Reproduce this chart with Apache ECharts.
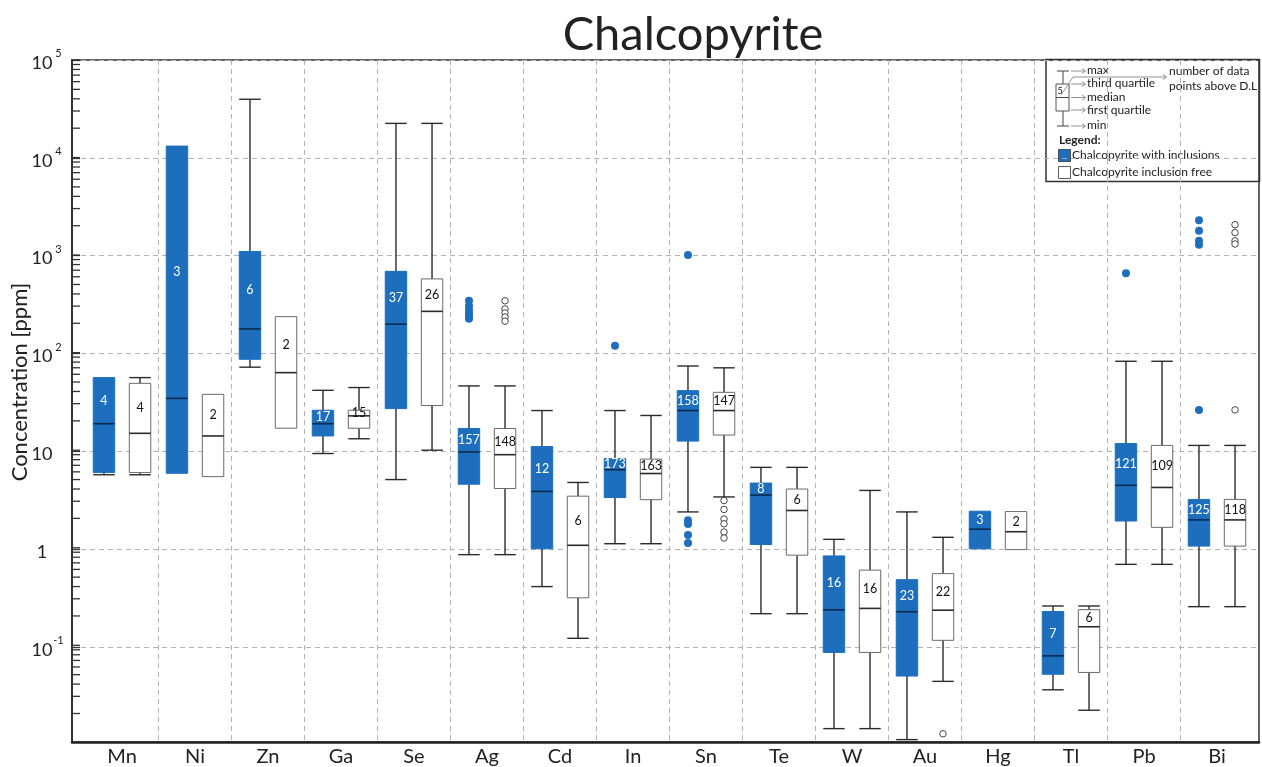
<!DOCTYPE html>
<html><head><meta charset="utf-8">
<script src="https://cdn.jsdelivr.net/npm/echarts@6/dist/echarts.min.js"></script>
<style>html,body{margin:0;padding:0;background:#fff}#c{width:1262px;height:767px}</style>
</head><body><div id="c"></div>
<script>
const categories = ['Mn','Ni','Zn','Ga','Se','Ag','Cd','In','Sn','Te','W','Au','Hg','Tl','Pb','Bi'];

// [min, Q1, median, Q3, max] in ppm
const withInclusions = [
  [5.6, 5.9, 18.7, 55.5, 55.5],
  [5.8, 5.8, 34, 13100, 13100],
  [71, 85.5, 175, 1090, 39600],
  [9.25, 14, 18.7, 25.7, 41.1],
  [5.0, 26.7, 196, 682, 22400],
  [0.85, 4.48, 9.6, 16.7, 45.6],
  [0.40, 0.975, 3.78, 10.9, 25.5],
  [1.1, 3.27, 6.3, 8.2, 25.5],
  [2.33, 12.4, 25.5, 40.8, 73],
  [0.211, 1.08, 3.47, 4.6, 6.67],
  [0.014, 0.0845, 0.231, 0.825, 1.22],
  [0.0108, 0.0484, 0.221, 0.471, 2.33],
  [0.975, 0.975, 1.55, 2.37, 2.37],
  [0.035, 0.0505, 0.078, 0.222, 0.253],
  [0.676, 1.88, 4.37, 11.7, 81.6],
  [0.249, 1.04, 1.93, 3.13, 11.2]
];
const inclusionFree = [
  [5.6, 5.9, 14.9, 48.5, 55.5],
  [5.36, 5.36, 14, 37.4, 37.4],
  [16.8, 16.8, 62.4, 234, 234],
  [13.1, 16.8, 22.5, 25.7, 43.9],
  [10, 28.7, 265, 570, 22400],
  [0.85, 4.05, 9.0, 16.7, 45.6],
  [0.118, 0.307, 1.06, 3.38, 4.67],
  [1.1, 3.11, 5.77, 8.1, 22.7],
  [3.32, 14.3, 25.5, 39.2, 69.9],
  [0.211, 0.84, 2.41, 4.0, 6.67],
  [0.014, 0.0845, 0.239, 0.59, 3.87],
  [0.0427, 0.1125, 0.229, 0.543, 1.28],
  [0.957, 0.957, 1.46, 2.35, 2.35],
  [0.0216, 0.0527, 0.155, 0.232, 0.253],
  [0.676, 1.62, 4.15, 11.2, 81.6],
  [0.249, 1.04, 1.93, 3.13, 11.2]
];
const countsWith = [4,3,6,17,37,157,12,173,158,8,16,23,3,7,121,125];
const countsFree = [4,2,2,15,26,148,6,163,147,6,16,22,2,6,109,118];

// outliers: [category index, value]
const outliersWith = [
  [5,340],[5,300],[5,270],[5,250],[5,235],[5,222],
  [7,118],
  [8,1000],[8,1.92],[8,1.75],[8,1.35],[8,1.12],
  [14,650],
  [15,2270],[15,1780],[15,1400],[15,1280],[15,25.9]
];
const outliersFree = [
  [5,340],[5,280],[5,255],[5,232],[5,210],
  [8,3.05],[8,2.47],[8,1.97],[8,1.76],[8,1.45],[8,1.26],
  [11,0.0124],
  [15,2050],[15,1700],[15,1400],[15,1300],[15,25.9]
];

const yMin = 0.0107, yMax = 100000;
const BLUE = '#1d6fbe';
const FONT = 'Lato';
const TXT = '#222';

// y-axis tick marks: decades and 2..9 within each decade
const tickVals = [];
for (let e = -2; e <= 4; e++) {
  for (let k = 1; k <= 9; k++) {
    const v = k * Math.pow(10, e);
    if (v >= yMin && v <= yMax) tickVals.push(v);
  }
}
tickVals.push(100000);

const chart = echarts.init(document.getElementById('c'), null, {renderer: 'canvas'});

function boxData(stats, counts) {
  return stats.map((s, i) => [i, s[0], s[1], s[2], s[3], s[4], counts[i]]);
}

function boxRenderer(side, fill, stroke, medColor, textColor) {
  return function (params, api) {
    const i = api.value(0);
    const band = api.size([1, 1])[0];
    const cx = api.coord([i, 1])[0] + side * band * 0.247;
    const hw = band * 0.147;
    const y = k => api.coord([i, api.value(k)])[1];
    const yMn = y(1), yQ1 = y(2), yMd = y(3), yQ3 = y(4), yMx = y(5);
    const wl = {stroke: '#2b2b2b', lineWidth: 1.4};
    const ch = [];
    if (side < 0 && params.dataIndex === 0) {
      const left = params.coordSys.x - 13.5;
      tickVals.forEach(v => {
        const yy = api.coord([0, v])[1];
        ch.push({type: 'line', shape: {x1: left, y1: yy, x2: left + 8, y2: yy}, style: {stroke: '#333', lineWidth: 1.3}});
      });
    }
    if (api.value(5) > api.value(4)) {
      ch.push({type: 'line', shape: {x1: cx, y1: yQ3, x2: cx, y2: yMx}, style: wl});
      ch.push({type: 'line', shape: {x1: cx - hw, y1: yMx, x2: cx + hw, y2: yMx}, style: wl});
    }
    if (api.value(1) < api.value(2)) {
      ch.push({type: 'line', shape: {x1: cx, y1: yQ1, x2: cx, y2: yMn}, style: wl});
      ch.push({type: 'line', shape: {x1: cx - hw, y1: yMn, x2: cx + hw, y2: yMn}, style: wl});
    }
    ch.push({type: 'rect', shape: {x: cx - hw, y: yQ3, width: 2 * hw, height: yQ1 - yQ3},
      style: {fill: fill, stroke: stroke, lineWidth: 1}});
    ch.push({type: 'line', shape: {x1: cx - hw, y1: yMd, x2: cx + hw, y2: yMd},
      style: {stroke: medColor, lineWidth: 1.6}});
    const lv = Math.sqrt(api.value(4) * api.value(3));
    ch.push({type: 'text', x: cx, y: api.coord([i, lv])[1],
      style: {text: String(api.value(6)), fill: textColor, font: '12.5px ' + FONT,
        align: 'center', verticalAlign: 'middle'}});
    return {type: 'group', children: ch};
  };
}

const lineG = (x1, y1, x2, y2, c, w) => ({type: 'line', shape: {x1, y1, x2, y2}, style: {stroke: c || '#333', lineWidth: w || 1}, silent: true});
const arrowG = (x1, x2, y) => [
  lineG(x1, y, x2, y, '#777', 0.8),
  {type: 'polyline', shape: {points: [[x2 - 3, y - 2.5], [x2 + 0.5, y], [x2 - 3, y + 2.5]]}, style: {stroke: '#777', lineWidth: 0.8, fill: null}, silent: true}
];
const textG = (x, y, t, size, bold) => ({type: 'text', x, y, style: {text: t, fill: TXT,
  font: (bold ? 'bold ' : '') + size + 'px ' + FONT, align: 'left', verticalAlign: 'middle'}, silent: true});

const legendEls = [
  {type: 'rect', shape: {x: 1046, y: 59.5, width: 213.5, height: 122}, style: {fill: null, stroke: '#333', lineWidth: 1.5}, silent: true},
  lineG(1057, 71, 1069, 71, '#444', 1),
  lineG(1063, 71, 1063, 84, '#444', 1),
  {type: 'rect', shape: {x: 1056, y: 84, width: 13, height: 27}, style: {fill: null, stroke: '#555', lineWidth: 1}, silent: true},
  lineG(1056, 97.5, 1069, 97.5, '#444', 1),
  lineG(1063, 111, 1063, 126, '#444', 1),
  lineG(1057, 126, 1069, 126, '#444', 1),
  {type: 'text', x: 1060, y: 91, style: {text: '5', fill: TXT, font: '9px ' + FONT, align: 'center', verticalAlign: 'middle'}, silent: true},
  ...arrowG(1071, 1085, 71),
  ...arrowG(1071, 1085, 84),
  ...arrowG(1071, 1085, 97.5),
  ...arrowG(1071, 1085, 110),
  ...arrowG(1071, 1085, 126),
  {type: 'polyline', shape: {points: [[1061, 95], [1073, 77], [1166, 77]]}, style: {stroke: '#777', lineWidth: 0.8, fill: null}, silent: true},
  {type: 'polyline', shape: {points: [[1163, 74.5], [1166.5, 77], [1163, 79.5]]}, style: {stroke: '#777', lineWidth: 0.8, fill: null}, silent: true},
  textG(1087, 70, 'max', 12),
  textG(1087, 83.5, 'third quartile', 12),
  textG(1087, 97, 'median', 12),
  textG(1087, 110, 'first quartile', 12),
  textG(1087, 125.5, 'min', 12),
  textG(1169, 71, 'number of data', 12),
  textG(1169, 86, 'points above D.L', 12),
  textG(1059, 140, 'Legend:', 12, true),
  {type: 'rect', shape: {x: 1058.5, y: 149.5, width: 12, height: 12}, style: {fill: BLUE, stroke: '#333', lineWidth: 0.8}, silent: true},
  textG(1072, 155.5, 'Chalcopyrite with inclusions', 12),
  {type: 'rect', shape: {x: 1058.5, y: 166.5, width: 12, height: 12}, style: {fill: '#fff', stroke: '#333', lineWidth: 0.8}, silent: true},
  textG(1072, 172.5, 'Chalcopyrite inclusion free', 12)
];

const option = {
  animation: false,
  backgroundColor: '#fff',
  graphic: [
    {type: 'text', x: 693, y: 35, style: {text: 'Chalcopyrite', fill: TXT, font: '47px ' + FONT, align: 'center', verticalAlign: 'middle'}, silent: true},
    {type: 'text', x: 20, y: 382, rotation: Math.PI / 2, style: {text: 'Concentration [ppm]', fill: TXT, font: '22px ' + FONT, align: 'center', verticalAlign: 'middle'}, silent: true},
    ...legendEls
  ],
  grid: [
    {left: 72, right: 3, top: 60, bottom: 25, show: true, borderColor: '#333', borderWidth: 1.5, backgroundColor: 'transparent'},
    {left: 85.5, right: 8.5, top: 60, bottom: 25}
  ],
  xAxis: [
    {type: 'value', gridIndex: 0, min: 0, max: 1, axisLine: {show: true, onZero: false, lineStyle: {color: '#222', width: 2.5}},
      axisTick: {show: false}, axisLabel: {show: false}, splitLine: {show: false}},
    {type: 'category', gridIndex: 1, data: categories, boundaryGap: true,
      axisLine: {show: false}, axisTick: {show: false},
      axisLabel: {fontFamily: FONT, fontSize: 20, color: TXT, margin: 7, interval: 0},
      splitLine: {show: true, interval: 0, showMinLine: false, showMaxLine: false,
        lineStyle: {color: '#b3b3b3', type: [5, 4], width: 1}}}
  ],
  yAxis: [
    {type: 'log', gridIndex: 0, logBase: 10, min: yMin, max: yMax,
      axisLine: {show: true, onZero: false, lineStyle: {color: '#333', width: 2}},
      axisTick: {show: true, inside: true, length: 8, lineStyle: {color: '#333', width: 1.3}},
      axisLabel: {
        showMinLabel: false, margin: 8,
        formatter: function (v) {
          const e = Math.round(Math.log10(v));
          if (e === 0) return '{b|1}{s| }';
          if (e === 1) return '{b|10}{s| }';
          return '{b|10}{s|' + e + '}';
        },
        rich: {
          b: {fontFamily: FONT, fontSize: 18, color: TXT, width: 22, align: 'center', lineHeight: 24, verticalAlign: 'bottom'},
          s: {fontFamily: FONT, fontSize: 11, color: TXT, width: 11, align: 'center', lineHeight: 12, verticalAlign: 'top'}
        }
      },
      splitLine: {show: true, lineStyle: {color: '#b3b3b3', type: [5, 4], width: 1}},
      minorTick: {show: false}, minorSplitLine: {show: false}},
    {type: 'log', gridIndex: 1, logBase: 10, min: yMin, max: yMax, show: false}
  ],
  series: [
    {type: 'custom', name: 'Chalcopyrite with inclusions', xAxisIndex: 1, yAxisIndex: 1, z: 3,
      data: boxData(withInclusions, countsWith), encode: {x: 0, y: [1, 2, 3, 4, 5]},
      renderItem: boxRenderer(-1, BLUE, BLUE, '#0c2a4d', '#ffffff')},
    {type: 'custom', name: 'Chalcopyrite inclusion free', xAxisIndex: 1, yAxisIndex: 1, z: 3,
      data: boxData(inclusionFree, countsFree), encode: {x: 0, y: [1, 2, 3, 4, 5]},
      renderItem: boxRenderer(1, '#ffffff', '#6a6a6a', '#2a2a2a', '#111111')},
    {type: 'scatter', xAxisIndex: 1, yAxisIndex: 1, z: 4, data: outliersWith, symbol: 'circle', symbolSize: 8,
      symbolOffset: [-18, 0], itemStyle: {color: BLUE, opacity: 1}},
    {type: 'scatter', xAxisIndex: 1, yAxisIndex: 1, z: 4, data: outliersFree, symbol: 'circle', symbolSize: 6.5,
      symbolOffset: [18, 0], itemStyle: {color: '#ffffff', borderColor: '#333', borderWidth: 0.9, opacity: 1}}
  ]
};
chart.setOption(option);
</script>
</body></html>
